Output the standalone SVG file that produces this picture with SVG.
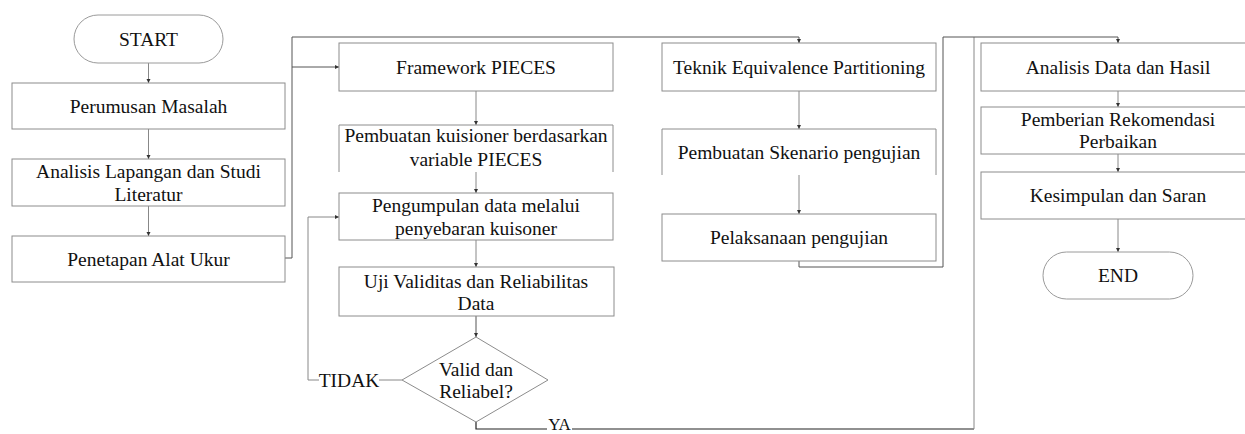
<svg xmlns="http://www.w3.org/2000/svg" width="1245" height="434" viewBox="0 0 1245 434">
<style>
.box{fill:#fff;stroke:#8c8c8c;stroke-width:1}
.term{fill:#fff;stroke:#9a9a9a;stroke-width:1}
.t{font-family:"Liberation Serif","Times New Roman",serif;font-size:19.5px;fill:#111;text-anchor:middle}
.ya{font-family:"Liberation Serif","Times New Roman",serif;font-size:17px;fill:#111;text-anchor:middle}
.c{fill:none;stroke:#555;stroke-width:1}
.cl{fill:none;stroke:#888;stroke-width:1}
.cd{fill:none;stroke:#222;stroke-width:1.2}
</style>
<defs>
<marker id="ah" markerWidth="5" markerHeight="5" refX="4" refY="2.5" orient="auto" markerUnits="userSpaceOnUse">
<path d="M0,0.5 L4,2.5 L0,4.5 Z" fill="#333"/>
</marker>
</defs>
<rect width="1245" height="434" fill="#fff"/>

<g id="connectors">
<line class="cl" x1="148.5" y1="63" x2="148.5" y2="83" marker-end="url(#ah)"/>
<line class="cl" x1="148.5" y1="129" x2="148.5" y2="159" marker-end="url(#ah)"/>
<line class="cl" x1="148.5" y1="206" x2="148.5" y2="236" marker-end="url(#ah)"/>
<polyline class="c" points="285,258 292,258 292,37 799,37 799,43" marker-end="url(#ah)"/>
<polyline class="c" points="292,67 339,67" marker-end="url(#ah)"/>
<line class="cl" x1="476" y1="91" x2="476" y2="125" marker-end="url(#ah)"/>
<line class="cl" x1="476" y1="172" x2="476" y2="193" marker-end="url(#ah)"/>
<line class="cl" x1="476" y1="240" x2="476" y2="267" marker-end="url(#ah)"/>
<line class="c" x1="476" y1="316" x2="476" y2="337" marker-end="url(#ah)"/>
<line class="cl" x1="402" y1="380" x2="379" y2="380"/>
<polyline class="cl" points="319,380 308,380 308,217 339,217" marker-end="url(#ah)"/>
<polyline class="cd" points="476,422 476,429 547,429"/>
<polyline class="cd" points="572,429 974,429"/>
<polyline class="cl" points="974,429 974,37"/>
<line class="cl" x1="799" y1="91" x2="799" y2="129" marker-end="url(#ah)"/>
<line class="cl" x1="799" y1="175" x2="799" y2="214" marker-end="url(#ah)"/>
<polyline class="c" points="799,261 799,267 943,267 943,37 1118,37 1118,43" marker-end="url(#ah)"/>
<line class="cl" x1="1118" y1="91" x2="1118" y2="107" marker-end="url(#ah)"/>
<line class="cl" x1="1118" y1="154" x2="1118" y2="172" marker-end="url(#ah)"/>
<line class="cl" x1="1118" y1="219" x2="1118" y2="252" marker-end="url(#ah)"/>
<text class="t" x="349" y="387">TIDAK</text>
<text class="ya" x="559.5" y="430">YA</text>
</g>

<g id="start">
<rect class="term" x="74" y="15" width="149" height="48" rx="24" ry="24"/>
<text class="t" x="148.5" y="46">START</text>
</g>
<g id="perumusan">
<rect class="box" x="12" y="83" width="273" height="46"/>
<text class="t" x="148.5" y="113">Perumusan Masalah</text>
</g>
<g id="analisis-lapangan">
<rect class="box" x="12" y="159" width="273" height="47"/>
<text class="t" x="148.5" y="178">Analisis Lapangan dan Studi</text>
<text class="t" x="148.5" y="200.5">Literatur</text>
</g>
<g id="penetapan">
<rect class="box" x="12" y="236" width="273" height="46"/>
<text class="t" x="148.5" y="266">Penetapan Alat Ukur</text>
</g>

<g id="framework">
<rect class="box" x="339" y="43" width="274" height="48"/>
<text class="t" x="476" y="74">Framework PIECES</text>
</g>
<g id="pembuatan-kuisioner">
<path class="box" d="M339,172 L339,125 L613,125 L613,172"/>
<text class="t" x="476" y="142">Pembuatan kuisioner berdasarkan</text>
<text class="t" x="476" y="166">variable PIECES</text>
</g>
<g id="pengumpulan">
<rect class="box" x="339" y="193" width="274" height="47"/>
<text class="t" x="476" y="212">Pengumpulan data melalui</text>
<text class="t" x="476" y="235">penyebaran kuisoner</text>
</g>
<g id="uji">
<rect class="box" x="339" y="267" width="275" height="49"/>
<text class="t" x="476" y="287.5">Uji Validitas dan Reliabilitas</text>
<text class="t" x="476" y="309.5">Data</text>
</g>
<g id="decision">
<polygon class="box" points="476,337 548,380 476,422 402,380"/>
<text class="t" x="476" y="376">Valid dan</text>
<text class="t" x="476" y="398">Reliabel?</text>
</g>

<g id="teknik">
<rect class="box" x="662" y="43" width="274" height="48"/>
<text class="t" x="799" y="74">Teknik Equivalence Partitioning</text>
</g>
<g id="skenario">
<path class="box" d="M662,175 L662,129 L936,129 L936,175"/>
<text class="t" x="799" y="159">Pembuatan Skenario pengujian</text>
</g>
<g id="pelaksanaan">
<rect class="box" x="662" y="214" width="274" height="47"/>
<text class="t" x="799" y="244">Pelaksanaan pengujian</text>
</g>

<g id="analisis-data">
<rect class="box" x="981" y="43" width="274" height="48"/>
<text class="t" x="1118" y="74">Analisis Data dan Hasil</text>
</g>
<g id="pemberian">
<rect class="box" x="981" y="107" width="274" height="47"/>
<text class="t" x="1118" y="126">Pemberian Rekomendasi</text>
<text class="t" x="1118" y="148">Perbaikan</text>
</g>
<g id="kesimpulan">
<rect class="box" x="981" y="172" width="274" height="47"/>
<text class="t" x="1118" y="202">Kesimpulan dan Saran</text>
</g>
<g id="end">
<rect class="term" x="1043" y="252" width="150" height="47" rx="23.5" ry="23.5"/>
<text class="t" x="1118" y="282">END</text>
</g>
</svg>
